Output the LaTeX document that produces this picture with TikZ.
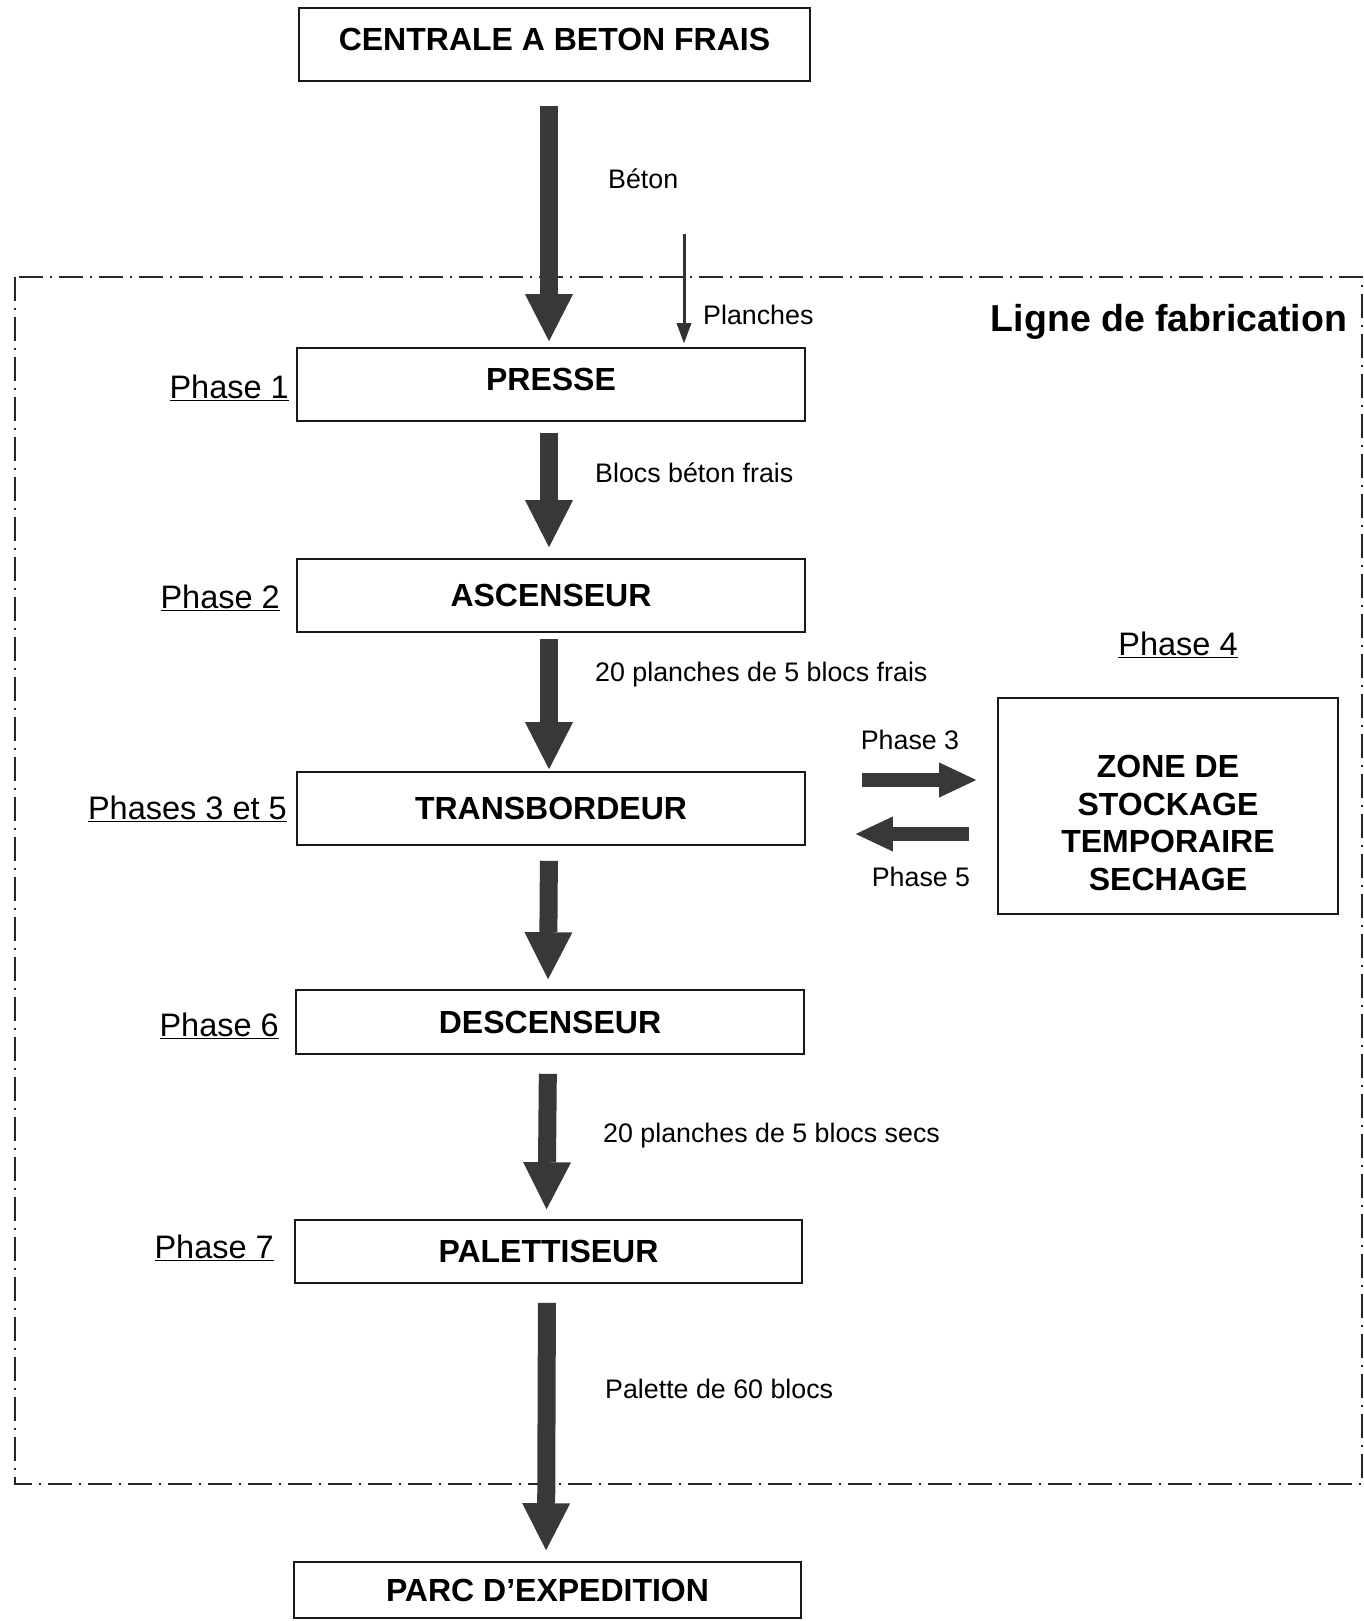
\documentclass[tikz,border=0pt]{standalone}
\usepackage{fontspec}
\setmainfont{Liberation Sans}
\usetikzlibrary{arrows.meta,calc}
\begin{document}
\begin{tikzpicture}[x=1pt,y=-1pt,
  box/.style={draw=black!90, line width=1.6pt, minimum width=508pt, minimum height=73pt, inner sep=0pt,
    font=\fontsize{32}{37}\selectfont\bfseries},
  hightext/.style={text depth=10pt},
  fat/.style={draw=black!78, line width=18pt, -{Triangle[width=48pt,length=47pt,line width=0pt]}},
  fath/.style={draw=black!78, line width=14pt, -{Triangle[width=35pt,length=37pt,line width=0pt]}},
  thinarrow/.style={draw=black!80, line width=3pt, -{Triangle[width=15pt,length=20pt,line width=0pt]}},
  phase/.style={font=\fontsize{32.5}{38}\selectfont, anchor=base east, inner sep=0pt},
  lbl/.style={font=\fontsize{26.8}{31}\selectfont, anchor=base west, inner sep=0pt},
  lblc/.style={font=\fontsize{26.8}{31}\selectfont, anchor=base, inner sep=0pt},
  frame/.style={draw=black!85, line width=2pt, dash pattern=on 24pt off 7pt on 2pt off 7pt}
]
\useasboundingbox (0,0) rectangle (1364,1621);

% frame of the production line
\draw[frame] (15,277) rectangle (1362,1484);
\node[font=\fontsize{37.5}{44}\selectfont\bfseries, anchor=base, inner sep=0pt] (ligne) at (1169,331) {Ligne de fabrication};

% boxes
\node[box, hightext, minimum width=511pt] (centrale) at (554.5,44.5) {CENTRALE A BETON FRAIS};
\node[box, hightext] (presse) at (551,384.5) {PRESSE};
\node[box] (ascenseur) at (551,595.5) {ASCENSEUR};
\node[box] (transbordeur) at (551,808.5) {TRANSBORDEUR};
\node[box, minimum height=64pt] (descenseur) at (550,1022) {DESCENSEUR};
\node[box, minimum height=63pt, minimum width=507pt] (palettiseur) at (548.5,1251.5) {PALETTISEUR};
\node[box, minimum height=56pt, minimum width=507pt] (parc) at (547.5,1590) {PARC D’EXPEDITION};
\node[draw=black!90, line width=1.6pt, minimum width=340pt, minimum height=216pt, inner sep=0pt] (zone) at (1168,806) {};
\node[font=\fontsize{32}{37.5}\selectfont\bfseries, align=center, inner sep=0pt] (zonetxt) at (1168,823)
  {ZONE DE\\STOCKAGE\\TEMPORAIRE\\SECHAGE};

% phase labels
\node[phase] (ph1) at (289,398) {\underline{Phase 1}};
\node[phase] (ph2) at (280,608) {\underline{Phase 2}};
\node[phase] (ph35) at (287,819) {\underline{Phases 3 et 5}};
\node[phase] (ph6) at (279,1036) {\underline{Phase 6}};
\node[phase] (ph7) at (274,1258) {\underline{Phase 7}};
\node[phase, anchor=base] (ph4) at (1178,655) {\underline{Phase 4}};

% main flow arrows
\draw[fat, shorten <=24pt, shorten >=6pt] ([xshift=-5.5pt]centrale.south) -- ([xshift=-5.5pt]centrale.south |- presse.north);
\draw[fat, shorten <=11pt, shorten >=11pt] ([xshift=-2pt]presse.south) -- ([xshift=-2pt]ascenseur.north);
\draw[fat, shorten <=6pt, shorten >=2pt] ([xshift=-2pt]ascenseur.south) -- ([xshift=-2pt]transbordeur.north);
\draw[fat, shorten <=15pt, shorten >=10pt] ([xshift=-2pt]transbordeur.south) -- ([xshift=-2pt]descenseur.north);
\draw[fat, shorten <=19pt, shorten >=10pt] ([xshift=-2pt]descenseur.south) -- ([xshift=-2pt]palettiseur.north);
\draw[fat, shorten <=19pt, shorten >=11pt] ([xshift=-1.5pt]palettiseur.south) -- ([xshift=-1.5pt]parc.north);

% planches
\coordinate (plstart) at (684,234);
\draw[thinarrow, shorten >=4pt] (plstart) -- (plstart |- presse.north);

% transfer arrows
\draw[fath, shorten <=56pt, shorten >=21pt] ([yshift=28.5pt]transbordeur.east) -- ([yshift=28.5pt]transbordeur.east -| zone.west);
\draw[fath, shorten <=28pt, shorten >=50pt] ([yshift=-25.5pt]transbordeur.east -| zone.west) -- ([yshift=-25.5pt]transbordeur.east);

% flow labels
\node[lbl] (lbeton) at (608,189) {Béton};
\node[lbl] (lplanches) at (703,324) {Planches};
\node[lbl] (lblocs) at (595,482) {Blocs béton frais};
\node[lbl] (lfrais) at (595,681) {20 planches de 5 blocs frais};
\node[lblc] (lph3) at (910,749) {Phase 3};
\node[lblc] (lph5) at (921,886) {Phase 5};
\node[lbl] (lsecs) at (603,1142) {20 planches de 5 blocs secs};
\node[lbl] (lpalette) at (605,1398) {Palette de 60 blocs};
\end{tikzpicture}
\end{document}
